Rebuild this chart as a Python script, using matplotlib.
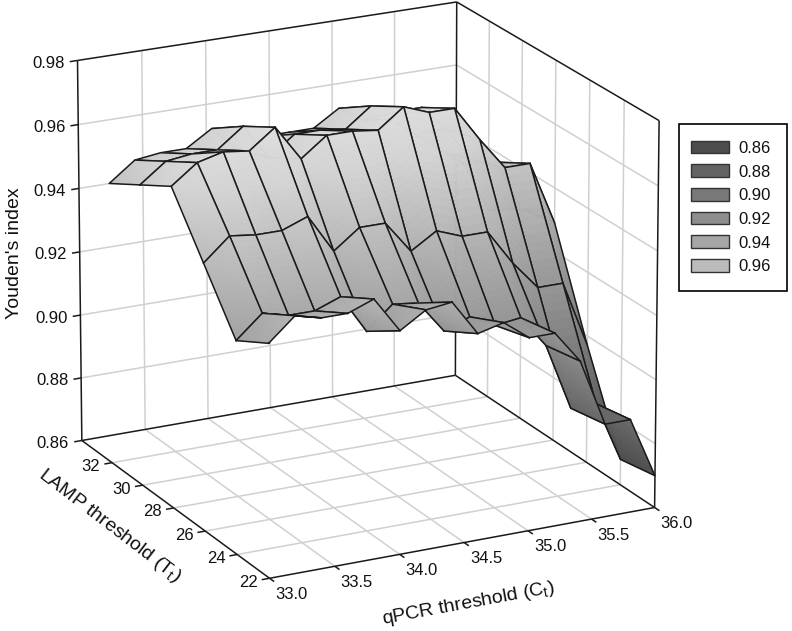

import numpy as np
import matplotlib
matplotlib.use('Agg')
import matplotlib.pyplot as plt
from matplotlib.patches import Patch, Rectangle
from matplotlib.legend_handler import HandlerPatch
from mpl_toolkits.mplot3d import proj3d
from mpl_toolkits.mplot3d.art3d import Poly3DCollection

plt.rcParams['font.family'] = ['Liberation Sans', 'DejaVu Sans']
plt.rcParams['mathtext.fontset'] = 'custom'
plt.rcParams['mathtext.rm'] = 'Liberation Sans'

# data -------------------------------------------------------------------
qpcr = [33.0, 33.2, 33.4, 33.6, 33.8, 34.0, 34.2, 34.4, 34.6, 34.8, 35.0, 35.2, 35.4, 35.6, 35.8, 36.0]
lamp = [22, 24, 26, 28, 30, 32]
z22 = [.932, .939, .937, .937, .940, .929, .934, .935, .924, .926, .920, .920, .910, .889, .889, .870]
z24 = [.926, .933, .931, .931, .934, .922, .929, .928, .918, .921, .917, .918, .908, .887, .887, .868]
z26 = [.943, .950, .949, .949, .952, .940, .946, .946, .936, .941, .938, .938, .927, .918, .918, .897]
z28 = [.960, .966, .968, .967, .973, .962, .968, .968, .967, .973, .970, .970, .959, .949, .949, .929]
z30 = [.954, .960, .961, .961, .967, .956, .962, .962, .961, .967, .964, .964, .956, .945, .943, .927]
z32 = [.948, .954, .955, .955, .960, .952, .955, .955, .955, .960, .955, .954, .948, .942, .936, .920]
youden = [z22, z24, z26, z28, z30, z32]
x_ticks = [33.0, 33.5, 34.0, 34.5, 35.0, 35.5, 36.0]
y_ticks = [22, 24, 26, 28, 30, 32]
y_grid = [24, 26, 28, 30, 32]
z_ticks = [0.86, 0.88, 0.90, 0.92, 0.94, 0.96, 0.98]
legend_labels = ['0.86', '0.88', '0.90', '0.92', '0.94', '0.96']
legend_colors = ['#4d4d4d', '#636363', '#787878', '#8e8e8e', '#a6a6a6', '#bcbcbc']
shade_z = [.86, .88, .90, .92, .94, .96, .98]
shade_gray = [62, 92, 122, 152, 182, 212, 228]

XMIN, XMAX, YMIN, YMAX, ZMIN, ZMAX = 33, 36, 22, 34, .86, .98
W, H = 792, 631
GRID = '#d0d0d0'
INK = '#1a1a1a'

fig = plt.figure(figsize=(W / 100, H / 100), dpi=100, facecolor='white')
S = 710.0
left = 365.32 + S * (-0.095 / 0.185)
bottom = H - (283.42 + S * (0.095 / 0.185))
ax = fig.add_axes([left / W, bottom / H, S / W, S / H], projection='3d',
                  proj_type='persp', computed_zorder=False)
ax.set_xlim(XMIN, XMAX)
ax.set_ylim(YMIN, YMAX)
ax.set_zlim(ZMIN, ZMAX)
ax.view_init(elev=19.4486, azim=-116.8763)
ax.set_proj_type('persp', focal_length=2.3024)
ax.set_box_aspect((0.9929, 1, 0.9425))
ax.set_axis_off()
ax.set_autoscale_on(False)


def seg(p, q, color=INK, lw=1.1, zorder=2):
    ax.plot([p[0], q[0]], [p[1], q[1]], [p[2], q[2]], color=color, lw=lw, zorder=zorder,
            solid_capstyle='butt')


# gridlines on the floor and the two back walls
for x in x_ticks[1:-1]:
    seg((x, YMIN, ZMIN), (x, YMAX, ZMIN), GRID, 1.1, 1)
    seg((x, YMAX, ZMIN), (x, YMAX, ZMAX), GRID, 1.1, 1)
for y in y_grid:
    seg((XMIN, y, ZMIN), (XMAX, y, ZMIN), GRID, 1.1, 1)
    seg((XMAX, y, ZMIN), (XMAX, y, ZMAX), GRID, 1.1, 1)
for z in z_ticks[1:-1]:
    seg((XMIN, YMAX, z), (XMAX, YMAX, z), GRID, 1.1, 1)
    seg((XMAX, YMAX, z), (XMAX, YMIN, z), GRID, 1.1, 1)

# box
seg((XMIN, YMIN, ZMIN), (XMAX, YMIN, ZMIN))
seg((XMIN, YMIN, ZMIN), (XMIN, YMAX, ZMIN))
seg((XMIN, YMAX, ZMIN), (XMAX, YMAX, ZMIN))
seg((XMAX, YMIN, ZMIN), (XMAX, YMAX, ZMIN))
seg((XMIN, YMAX, ZMIN), (XMIN, YMAX, ZMAX))
seg((XMAX, YMAX, ZMIN), (XMAX, YMAX, ZMAX))
seg((XMAX, YMIN, ZMIN), (XMAX, YMIN, ZMAX))
seg((XMIN, YMAX, ZMAX), (XMAX, YMAX, ZMAX))
seg((XMAX, YMAX, ZMAX), (XMAX, YMIN, ZMAX))


def gray_of(z):
    g = np.interp(z, shade_z, shade_gray) / 255.0
    return np.column_stack([g, g, g, np.ones_like(g)])


# surface: painter's order, far facets first
Z = np.array(youden)
X = np.array(qpcr)
Y = np.array(lamp, float)
N = 14
t = np.linspace(0, 1, N + 1)
order = 10
for j in range(len(lamp) - 2, -1, -1):
    for i in range(len(qpcr) - 2, -1, -1):
        polys, vals = [], []
        zc = Z[j:j + 2, i:i + 2]
        def bil(a, b):
            return ((1 - a) * (1 - b) * zc[0, 0] + a * (1 - b) * zc[0, 1]
                    + (1 - a) * b * zc[1, 0] + a * b * zc[1, 1])
        for a0, a1 in zip(t[:-1], t[1:]):
            for b0, b1 in zip(t[:-1], t[1:]):
                cell = []
                for a, b in ((a0, b0), (a1, b0), (a1, b1), (a0, b1)):
                    cell.append((X[i] + a * (X[i + 1] - X[i]), Y[j] + b * (Y[j + 1] - Y[j]), bil(a, b)))
                polys.append(cell)
                vals.append(np.mean([c[2] for c in cell]))
        cols = gray_of(np.array(vals))
        pc = Poly3DCollection(polys, facecolors=cols, edgecolors=cols, linewidths=0.4, zorder=order)
        ax.add_collection3d(pc, autolim=False)
        ax.plot([X[i], X[i + 1], X[i + 1], X[i], X[i]],
                [Y[j], Y[j], Y[j + 1], Y[j + 1], Y[j]],
                [zc[0, 0], zc[0, 1], zc[1, 1], zc[1, 0], zc[0, 0]],
                color=INK, lw=1.1, zorder=order + 1, solid_joinstyle='round')
        order += 2

ax.set_xlim(XMIN, XMAX)
ax.set_ylim(YMIN, YMAX)
ax.set_zlim(ZMIN, ZMAX)


def label(x, y, z, s, dx, dy):
    u, v, _ = proj3d.proj_transform(x, y, z, ax.get_proj())
    ax.annotate(s, xy=(u, v), xycoords='data', xytext=(dx, dy), textcoords='offset pixels',
                ha='center', va='center', fontsize=12, color='#111111', annotation_clip=False)


# ticks and tick labels
for x in x_ticks:
    seg((x, YMIN, ZMIN), (x, YMIN - 0.28, ZMIN))
    label(x, YMIN, ZMIN, f'{x:.1f}', 22, -16)
for y in y_ticks:
    seg((XMIN, y, ZMIN), (XMIN - 0.06, y, ZMIN))
    label(XMIN, y, ZMIN, f'{y}', -21, -4)
for z in z_ticks:
    seg((XMIN, YMAX, z), (XMIN - 0.06, YMAX, z))
    label(XMIN, YMAX, z, f'{z:.2f}', -29, -3)

# axis titles
fig.text(15 / W, 1 - 253 / H, "Youden's index", rotation=90, ha='center', va='center', fontsize=14, color='#111111')
fig.text(110 / W, 1 - 526 / H, r'LAMP threshold (T$_{\mathrm{t}}$)', rotation=-37.5, rotation_mode='anchor',
         ha='center', va='center', fontsize=14, color='#111111')
fig.text(468 / W, 1 - 604 / H, r'qPCR threshold (C$_{\mathrm{t}}$)', rotation=10.5, rotation_mode='anchor',
         ha='center', va='center', fontsize=14, color='#111111')


# legend
def swatch(legend, orig_handle, xdescent, ydescent, width, height, fontsize):
    return Rectangle((xdescent - 3.4, -ydescent), width, height)


handles = [Patch(facecolor=c, edgecolor='#333333', lw=1.0, label=l) for c, l in zip(legend_colors, legend_labels)]
leg = fig.legend(handles=handles, loc='upper left', bbox_to_anchor=(679 / W, 1 - 124 / H), bbox_transform=fig.transFigure,
                 borderaxespad=0, fontsize=12, frameon=True, fancybox=False, edgecolor='black', framealpha=1,
                 handlelength=2.3, handleheight=0.8, handletextpad=0.24, labelspacing=0.51, borderpad=1.0,
                 labelcolor='#111111', handler_map={Patch: HandlerPatch(patch_func=swatch)})
leg.get_frame().set_linewidth(1.2)

fig.savefig('out.png', dpi=100, facecolor='white')
